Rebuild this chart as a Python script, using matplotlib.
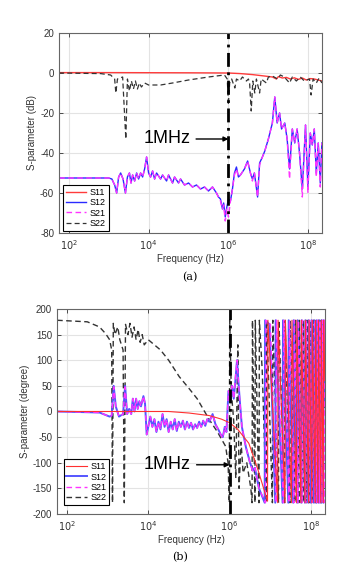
import matplotlib
matplotlib.use('Agg')
import matplotlib.pyplot as plt
import numpy as np

plt.rcParams['font.family'] = ['Liberation Sans', 'DejaVu Sans']
plt.rcParams['axes.unicode_minus'] = False

# ---------------- (a) magnitude, dB ----------------
# x values are log10(frequency / Hz)
s11_db_lf = [1.76, 3.0, 5.0, 6.0, 6.3, 6.6, 6.9, 7.1, 7.2, 7.25, 7.35, 7.45, 7.55, 7.65,
             7.75, 7.85, 7.95, 8.05, 8.15, 8.25, 8.34]
s11_db = [0.2, 0.2, 0.1, 0.0, -0.3, -0.8, -1.5, -2.0, -3.0, -1.8, -2.5, -2.2, -3.0, -2.4,
          -3.2, -2.5, -3.5, -2.8, -3.0, -3.5, -4.0]

s22_db_lf = [1.76, 2.8, 3.05, 3.15, 3.18, 3.22, 3.35, 3.43, 3.47, 3.52, 3.57, 3.62, 3.67, 3.72,
             3.77, 3.82, 3.9, 4.0, 4.3, 4.6, 5.0, 5.5, 5.9, 5.97, 6.0, 6.03, 6.08, 6.16, 6.2,
             6.28, 6.35, 6.45, 6.5, 6.53, 6.57, 6.61, 6.66, 6.7, 6.78, 6.82, 6.95, 7.0, 7.1,
             7.23, 7.3, 7.4, 7.53, 7.6, 7.7, 7.8, 7.9, 8.03, 8.07, 8.12, 8.2, 8.27, 8.34]
s22_db = [0.0, -0.3, -1.0, -3.0, -10.0, -3.0, -2.0, -33.0, -3.0, -9.0, -4.0, -8.0, -4.0, -8.0,
          -5.0, -7.0, -5.0, -6.0, -6.0, -5.0, -3.5, -2.0, -1.0, -3.0, -16.0, -5.0, -3.0, -7.5,
          -3.0, -4.0, -2.0, -4.0, -3.0, -5.0, -19.0, -4.0, -10.0, -3.0, -10.0, -3.0, -5.0,
          -2.0, -1.5, -3.0, -1.0, -2.0, -5.0, -2.0, -4.0, -2.0, -4.0, -3.0, -11.0, -3.0, -5.0,
          -2.5, -5.0]

s12_db_lf = [1.76, 3.0, 3.08, 3.15, 3.2, 3.25, 3.3, 3.36, 3.42, 3.47, 3.52, 3.56, 3.6, 3.65,
             3.7, 3.75, 3.8, 3.85, 3.9, 3.95, 4.0, 4.05, 4.1, 4.15, 4.2, 4.3, 4.35, 4.45, 4.5,
             4.6, 4.65, 4.75, 4.8, 4.9, 5.0, 5.1, 5.2, 5.3, 5.4, 5.5, 5.6, 5.7, 5.75, 5.8, 5.85,
             5.88, 5.92, 5.96, 6.0, 6.05, 6.1, 6.15, 6.2, 6.25, 6.3, 6.4, 6.48, 6.55, 6.6, 6.65,
             6.73, 6.78, 6.85, 6.91, 7.0, 7.1, 7.16, 7.22, 7.28, 7.33, 7.41, 7.47, 7.53, 7.6,
             7.66, 7.72, 7.78, 7.85, 7.93, 7.99, 8.05, 8.1, 8.15, 8.2, 8.25, 8.3, 8.34]
s12_db = [-52.5, -52.5, -53, -56, -60, -52, -50, -53, -60, -52, -50, -55, -51, -54,
          -50, -53, -50, -52, -48, -42, -50, -52, -49, -53, -50, -53, -51, -54, -51,
          -55, -52, -55, -53, -56, -55, -57, -56, -58, -57, -59, -57, -60, -62, -63, -68,
          -65, -72, -67, -63, -64, -58, -50, -47, -52, -51, -48, -44, -50, -53, -50,
          -62, -45, -42, -39, -33, -25, -12, -25, -20, -28, -25, -33, -48, -28,
          -35, -28, -40, -58, -26, -57, -30, -36, -28, -50, -35, -55, -35]
s21_db = [-52.5, -52.5, -53, -56, -60, -52, -50, -53, -60, -52, -50, -55, -51, -54,
          -50, -53, -50, -52, -48, -42, -50, -52, -49, -53, -50, -53, -51, -54, -51,
          -55, -52, -55, -53, -56, -55, -57, -56, -58, -57, -59, -57, -60, -62, -64, -68,
          -66, -74, -68, -72, -64, -58, -51, -48, -52, -51, -48, -44, -50, -54, -50,
          -62, -46, -42, -39, -33, -25, -12, -25, -20, -28, -25, -33, -53, -28,
          -35, -28, -40, -62, -26, -60, -30, -36, -28, -52, -35, -57, -35]

# ---------------- (b) phase, degree ----------------
s11_ph_lf = [1.76, 4.5, 5.0, 5.5, 5.8, 6.0, 6.2, 6.47, 6.7, 6.93, 6.94, 7.18, 7.19, 7.36, 7.37,
             7.52, 7.53, 7.64, 7.65, 7.75, 7.76, 7.85, 7.86, 7.94, 7.95, 8.02, 8.03, 8.1,
             8.11, 8.17, 8.18, 8.24, 8.25, 8.3, 8.31, 8.34]
s11_ph = [0, 0, -3, -8, -15, -22, -35, -62, -115, -175, 178, -178, 178, -178, 178,
          -178, 178, -178, 178, -178, 178, -178, 178, -178, 178, -178, 178, -178,
          178, -178, 178, -178, 178, -178, 178, 60]

s12_ph_lf = [1.76, 2.8, 3.05, 3.1, 3.15, 3.2, 3.28, 3.38, 3.43, 3.48, 3.53, 3.58, 3.62, 3.66,
             3.7, 3.74, 3.78, 3.82, 3.88, 3.92, 3.96, 4.05, 4.1, 4.15, 4.2, 4.25, 4.3, 4.35,
             4.4, 4.45, 4.5, 4.55, 4.6, 4.65, 4.7, 4.75, 4.8, 4.85, 4.9, 4.95, 5.0, 5.05, 5.1,
             5.15, 5.2, 5.25, 5.3, 5.35, 5.4, 5.45, 5.5, 5.58, 5.65, 5.72, 5.78, 5.83, 5.88,
             5.92, 5.97, 6.02, 6.06, 6.1, 6.14, 6.18, 6.24, 6.3, 6.4, 6.5, 6.57, 6.62, 6.72,
             6.86, 6.87, 6.98, 7.12, 7.13, 7.3, 7.31, 7.44, 7.45, 7.56, 7.57, 7.66, 7.67,
             7.76, 7.77, 7.85, 7.86, 7.93, 7.94, 8.0, 8.01, 8.07, 8.08, 8.13, 8.14, 8.19,
             8.2, 8.25, 8.26, 8.3, 8.31, 8.34]
s12_ph = [0, -2, -10, -8, 50, 10, -10, -5, 50, -5, 5, -5, 25, 0,
          25, 5, 20, 10, 30, 15, -45, -10, -30, -15, -40, -20, -35, -5,
          -30, -15, -40, -20, -35, -15, -38, -20, -30, -18, -35, -20, -32, -22, -35,
          -25, -32, -20, -30, -18, -28, -15, -20, -5, -25, -35, -45, -50, -30,
          -40, 40, 20, 50, 25, 60, 100, 30, -30, -70, -100, -115, -110, -150,
          -178, 178, 170, -178, 178, -178, 178, -178, 178, -178, 178, -178, 178,
          -178, 178, -178, 178, -178, 178, -178, 178, -178, 178, -178, 178, -178,
          178, -178, 178, -178, 178, 20]
s21_ph_lf = [1.76, 2.8, 3.05, 3.1, 3.15, 3.2, 3.28, 3.38, 3.43, 3.48, 3.53, 3.58, 3.62, 3.66,
             3.7, 3.74, 3.78, 3.82, 3.88, 3.92, 3.96, 4.05, 4.1, 4.15, 4.2, 4.25, 4.3, 4.35,
             4.4, 4.45, 4.5, 4.55, 4.6, 4.65, 4.7, 4.75, 4.8, 4.85, 4.9, 4.95, 5.0, 5.05, 5.1,
             5.15, 5.2, 5.25, 5.3, 5.35, 5.4, 5.45, 5.5, 5.58, 5.65, 5.72, 5.78, 5.83, 5.88,
             5.92, 5.97, 6.02, 6.06, 6.1, 6.14, 6.18, 6.24, 6.3, 6.4, 6.5, 6.57, 6.62, 6.72,
             6.88, 6.89, 7.0, 7.14, 7.15, 7.32, 7.33, 7.46, 7.47, 7.58, 7.59, 7.68, 7.69,
             7.78, 7.79, 7.87, 7.88, 7.95, 7.96, 8.02, 8.03, 8.09, 8.1, 8.15, 8.16, 8.21,
             8.22, 8.27, 8.28, 8.32, 8.33, 8.34]
s21_ph = [0, -2, -10, -8, 48, 10, -10, -5, 48, -5, 5, -5, 25, 0,
          25, 5, 20, 10, 30, 15, -45, -10, -30, -15, -40, -20, -35, -5,
          -30, -15, -40, -20, -35, -15, -38, -20, -30, -18, -35, -20, -32, -22, -35,
          -25, -32, -20, -30, -18, -28, -15, -20, -5, -25, -35, -45, -52, -30,
          -40, 40, 25, 50, 25, 65, 100, 30, -30, -70, -100, -118, -110, -150,
          -178, 178, 170, -178, 178, -178, 178, -178, 178, -178, 178, -178, 178,
          -178, 178, -178, 178, -178, 178, -178, 178, -178, 178, -178, 178, -178,
          178, -178, 178, -178, 178, 60]

s22_ph_lf = [1.76, 2.5, 2.8, 2.95, 3.05, 3.1, 3.12, 3.14, 3.18, 3.25, 3.3, 3.38, 3.41, 3.44,
             3.5, 3.55, 3.6, 3.65, 3.7, 3.75, 3.8, 3.85, 3.9, 4.0, 4.3, 4.5, 4.76, 5.0, 5.2,
             5.5, 5.7, 5.9, 5.96, 5.99, 6.0, 6.04, 6.1, 6.15, 6.2, 6.23, 6.28, 6.33, 6.42,
             6.52, 6.55, 6.56, 6.62, 6.63, 6.72, 6.73, 6.8, 6.9, 6.91, 7.05, 7.06, 7.2, 7.21,
             7.35, 7.36, 7.48, 7.49, 7.6, 7.61, 7.7, 7.71, 7.8, 7.81, 7.89, 7.9, 7.97, 7.98,
             8.05, 8.06, 8.12, 8.13, 8.18, 8.19, 8.24, 8.25, 8.29, 8.3, 8.34]
s22_ph = [178, 175, 165, 152, 140, 120, -178, 172, 150, 165, 140, 120, -178, 170,
          150, 172, 145, 165, 140, 160, 135, 150, 130, 140, 120, 100, 68, 45, 25,
          -16, -40, -68, -100, -178, 178, 40, -20, -130, 130, -150, -60, -120, -100,
          -150, -178, 178, -178, 178, -178, 178, 80, -178, 178, -178, 178, -178, 178,
          -178, 178, -178, 178, -178, 178, -178, 178, -178, 178, -178, 178, -178, 178,
          -178, 178, -178, 178, -178, 178, -178, 178, -178, 178, 0]

xticks = [1e2, 1e4, 1e6, 1e8]
xtick_labels = ['$10^2$', '$10^4$', '$10^6$', '$10^8$']
db_ticks = [20, 0, -20, -40, -60, -80]
deg_ticks = [200, 150, 100, 50, 0, -50, -100, -150, -200]
legend_labels = ['S11', 'S12', 'S21', 'S22']


def f(lf):
    return 10 ** np.asarray(lf)


def style_axes(ax):
    ax.set_xscale('log')
    ax.set_xlim(57, 2.2e8)
    ax.set_xticks(xticks)
    ax.set_xticklabels(xtick_labels)
    ax.xaxis.set_minor_locator(matplotlib.ticker.NullLocator())
    ax.grid(True, color='#e3e3e3', lw=0.8)
    ax.set_axisbelow(True)
    ax.tick_params(direction='in', labelsize=7, colors='#333333', length=3, width=0.6,
                   top=True, right=True)
    for sp in ax.spines.values():
        sp.set_color('#666666')
        sp.set_linewidth(0.8)
    ax.set_xlabel('Frequency (Hz)', fontsize=7, color='#333333', labelpad=2)


fig = plt.figure(figsize=(3.63, 5.68), dpi=100)

# ---- (a)
ax1 = fig.add_axes([0.1625, 0.5898, 0.7245, 0.3521])
l1, = ax1.plot(f(s11_db_lf), s11_db, color='#ff3b3b', lw=1.0)
l2, = ax1.plot(f(s12_db_lf), s12_db, color='#2a2aff', lw=1.0)
l3, = ax1.plot(f(s12_db_lf), s21_db, color='#ff33ff', lw=1.0, ls=(0, (4, 2.5)))
l4, = ax1.plot(f(s22_db_lf), s22_db, color='#333333', lw=0.9, ls=(0, (4, 2.5)))
ax1.axvline(1e6, color='k', lw=2, ls=(0, (5, 2, 1, 2)))
style_axes(ax1)
ax1.set_ylim(-80, 20)
ax1.set_yticks(db_ticks)
ax1.set_ylabel('S-parameter (dB)', fontsize=7, color='#333333', labelpad=2)
ax1.annotate('1MHz', xy=(1e6, -33), xytext=(10 ** 5.05, -33), ha='right', va='center',
             fontsize=13, arrowprops=dict(arrowstyle='-|>', color='k', lw=1,
                                          mutation_scale=7, shrinkA=2, shrinkB=0))
leg = ax1.legend([l1, l2, l3, l4], legend_labels, loc='lower left',
                 bbox_to_anchor=(0.015, 0.012), fontsize=6.5, handlelength=2.3,
                 borderpad=0.3, labelspacing=0.15, handletextpad=0.4, fancybox=False,
                 framealpha=1, edgecolor='k', borderaxespad=0)
leg.get_frame().set_linewidth(0.8)

# ---- (b)
ax2 = fig.add_axes([0.157, 0.0951, 0.7383, 0.3609])
m4, = ax2.plot(f(s22_ph_lf), s22_ph, color='#333333', lw=1.0, ls=(0, (4, 2.5)))
m2, = ax2.plot(f(s12_ph_lf), s12_ph, color='#5555ff', lw=1.4)
m3, = ax2.plot(f(s21_ph_lf), s21_ph, color='#ff33ff', lw=1.0, ls=(0, (4, 2.5)))
m1, = ax2.plot(f(s11_ph_lf), s11_ph, color='#ff3030', lw=0.8)
ax2.axvline(1e6, color='k', lw=2, ls=(0, (5, 2, 1, 2)))
style_axes(ax2)
ax2.set_ylim(-200, 200)
ax2.set_yticks(deg_ticks)
ax2.set_ylabel('S-parameter (degree)', fontsize=7, color='#333333', labelpad=2)
ax2.annotate('1MHz', xy=(1e6, -104), xytext=(10 ** 5.05, -104), ha='right', va='center',
             fontsize=13, arrowprops=dict(arrowstyle='-|>', color='k', lw=1,
                                          mutation_scale=7, shrinkA=2, shrinkB=0))
leg2 = ax2.legend([m1, m2, m3, m4], legend_labels, loc='lower left',
                  bbox_to_anchor=(0.025, 0.044), fontsize=6.5, handlelength=2.3,
                  borderpad=0.3, labelspacing=0.15, handletextpad=0.4, fancybox=False,
                  framealpha=1, edgecolor='k', borderaxespad=0)
leg2.get_frame().set_linewidth(0.8)

fig.text(0.523, 0.512, '(a)', ha='center', va='center', fontsize=8, family='DejaVu Serif')
fig.text(0.496, 0.019, '(b)', ha='center', va='center', fontsize=8, family='DejaVu Serif')

fig.savefig('out.png', dpi=100)
